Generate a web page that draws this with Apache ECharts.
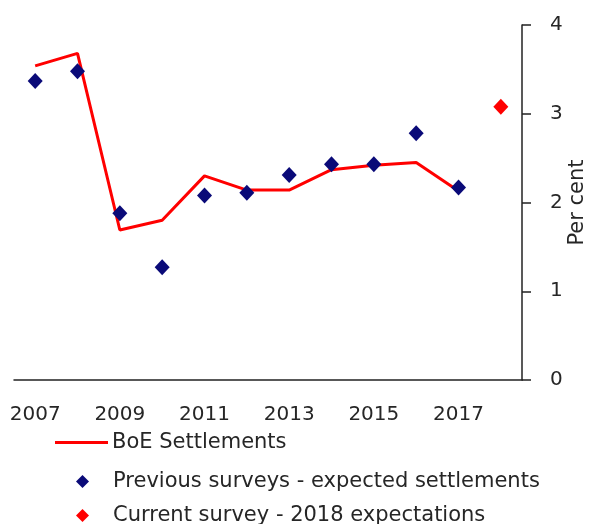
<!DOCTYPE html>
<html>
<head>
<meta charset="utf-8">
<script src="https://cdn.jsdelivr.net/npm/echarts@6/dist/echarts.min.js"></script>
<style>
  html, body { margin: 0; padding: 0; background: #fff; }
  #chart { width: 593px; height: 524px; }
</style>
</head>
<body>
<div id="chart"></div>
<script>
// Pay settlements, per cent
const years = ['2007','2008','2009','2010','2011','2012','2013','2014','2015','2016','2017','2018'];
const boeSettlements = [3.54, 3.68, 1.69, 1.80, 2.30, 2.14, 2.14, 2.37, 2.42, 2.45, 2.13, null];
const previousSurveys = [3.37, 3.48, 1.88, 1.27, 2.08, 2.11, 2.31, 2.43, 2.43, 2.78, 2.17, null];
const currentSurvey = [null, null, null, null, null, null, null, null, null, null, null, 3.08];
const yTicks = [0, 1, 2, 3, 4];

const seriesNames = [
  'BoE Settlements',
  'Previous surveys - expected settlements',
  'Current survey - 2018 expectations'
];

const FONT = 'DejaVu Sans';
const TEXT = '#262626';
const DIAMOND = 'path://M0,-1L1,0L0,1L-1,0Z';
const LINE_ICON = 'path://M0,0H53V3H0Z';
const legendIcons = [LINE_ICON, DIAMOND, DIAMOND];
const legendTops = [432, 471, 505];
const legendLefts = [55, 76, 76];

// one legend block per entry so each row sits at its own height
const legends = seriesNames.map((name, i) => ({
  orient: 'vertical',
  left: legendLefts[i],
  top: legendTops[i],
  padding: 0,
  itemWidth: 53,
  itemHeight: 13,
  symbolKeepAspect: true,
  textStyle: { fontFamily: FONT, fontSize: 21, color: TEXT, padding: [0, 0, 0, -1] },
  data: [{ name: name, icon: legendIcons[i] }]
}));

const chart = echarts.init(document.getElementById('chart'), null, { renderer: 'canvas' });
chart.setOption({
  animation: false,
  textStyle: { fontFamily: FONT },
  grid: { left: 14, right: 71, top: 25, bottom: 144, outerBoundsMode: 'none', containLabel: false },
  legend: legends,
  xAxis: {
    type: 'category',
    data: years,
    boundaryGap: true,
    axisLine: { lineStyle: { color: '#222', width: 1.5 } },
    axisTick: { interval: 1, length: 7, lineStyle: { color: '#222', width: 1.5 } },
    axisLabel: { interval: 1, fontFamily: FONT, fontSize: 20, color: TEXT, margin: 25 },
    splitLine: { show: false }
  },
  yAxis: {
    type: 'value',
    position: 'right',
    min: yTicks[0],
    max: yTicks[yTicks.length - 1],
    interval: 1,
    name: 'Per cent',
    nameLocation: 'middle',
    nameRotate: 90,
    nameGap: 45,
    nameMoveOverlap: false,
    nameTextStyle: { fontFamily: FONT, fontSize: 21, color: TEXT },
    axisLine: { show: true, lineStyle: { color: '#222', width: 1.5 } },
    axisTick: { show: true, length: 9, lineStyle: { color: '#222', width: 1.5 } },
    axisLabel: { fontFamily: FONT, fontSize: 20, color: TEXT, margin: 28 },
    splitLine: { show: false }
  },
  series: [
    {
      name: seriesNames[0],
      type: 'line',
      data: boeSettlements,
      symbol: 'none',
      lineStyle: { color: '#ff0000', width: 3 },
      itemStyle: { color: '#ff0000' },
      z: 2
    },
    {
      name: seriesNames[1],
      type: 'scatter',
      data: previousSurveys,
      symbol: 'diamond',
      symbolSize: [15, 16],
      itemStyle: { color: '#0a0a78', opacity: 1 },
      z: 3
    },
    {
      name: seriesNames[2],
      type: 'scatter',
      data: currentSurvey,
      symbol: 'diamond',
      symbolSize: [15, 16],
      itemStyle: { color: '#ff0000', opacity: 1 },
      z: 3
    }
  ]
});
</script>
</body>
</html>
